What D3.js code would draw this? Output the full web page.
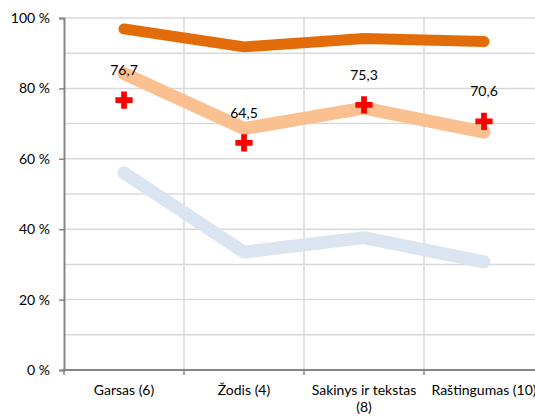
<!DOCTYPE html>
<html><head><meta charset="utf-8">
<script src="https://cdn.jsdelivr.net/npm/d3@7"></script>
<style>body{margin:0;background:#fff;overflow:hidden}svg{display:block}text{font-family:Lato,"Liberation Sans",sans-serif;fill:#000}</style>
</head><body><svg width="535" height="418"></svg>
<script>
const categories = ["Garsas (6)", "Žodis (4)", "Sakinys ir tekstas (8)", "Raštingumas (10)"];
const seriesDark = [96.9, 91.8, 94.2, 93.3];
const seriesLightOrange = [84.2, 68.6, 74.4, 67.6];
const seriesBlue = [56.0, 33.5, 37.6, 30.7];
const markerValues = [76.7, 64.5, 75.3, 70.6];
const yTicks = [0, 20, 40, 60, 80, 100];
const yGrid = [10, 20, 30, 40, 50, 60, 70, 80, 90, 100];

const svg = d3.select("svg");
const x = d3.scaleBand().domain(categories).range([64, 544]);
const y = d3.scaleLinear().domain([0, 100]).range([370, 18]);
const cx = d => x(d) + x.bandwidth() / 2;

// horizontal grid
svg.append("g").selectAll("line").data(yGrid).join("line")
  .attr("x1", 64).attr("x2", 535).attr("y1", d => y(d)).attr("y2", d => y(d))
  .attr("stroke", "#d9d9d9").attr("stroke-width", 1.5);
// vertical grid
svg.append("g").selectAll("line").data(categories.slice(1).concat(["_end"])).join("line")
  .attr("x1", (d, i) => 64 + (i + 1) * x.bandwidth()).attr("x2", (d, i) => 64 + (i + 1) * x.bandwidth())
  .attr("y1", 18).attr("y2", 370).attr("stroke", "#d9d9d9").attr("stroke-width", 1.5);

// y axis
const yAxis = d3.axisLeft(y).tickValues(yTicks).tickFormat(d => d + " %").tickSize(5).tickPadding(9);
const gy = svg.append("g").attr("transform", "translate(64,0)").call(yAxis);
gy.select(".domain").attr("stroke", "#868686").attr("stroke-width", 2);
gy.selectAll(".tick line").attr("stroke", "#868686").attr("stroke-width", 1.5);
gy.selectAll("text").attr("font-size", 14).style("font-family", "Lato,'Liberation Sans',sans-serif");

// x axis
svg.append("line").attr("x1", 63).attr("x2", 535).attr("y1", 370).attr("y2", 370)
  .attr("stroke", "#868686").attr("stroke-width", 2);
svg.append("g").selectAll("line").data(d3.range(categories.length + 1)).join("line")
  .attr("x1", i => 64 + i * x.bandwidth()).attr("x2", i => 64 + i * x.bandwidth())
  .attr("y1", 370).attr("y2", 375).attr("stroke", "#868686").attr("stroke-width", 1.5);

// x labels with wrapping
const xl = svg.append("g");
categories.forEach(c => {
  const t = xl.append("text").attr("x", cx(c)).attr("y", 395).attr("text-anchor", "middle").attr("font-size", 14);
  const words = c.split(" ");
  let line = [], lines = [];
  const tmp = svg.append("text").attr("font-size", 14);
  words.forEach(w => {
    const test = line.concat([w]).join(" ");
    tmp.text(test);
    if (tmp.node().getComputedTextLength() > 122 && line.length) { lines.push(line.join(" ")); line = [w]; }
    else line.push(w);
  });
  lines.push(line.join(" "));
  tmp.remove();
  lines.forEach((l, i) => t.append("tspan").attr("x", cx(c)).attr("dy", i ? 17 : 0).text(l));
});

// lines
const lineGen = d3.line().x((d, i) => cx(categories[i])).y(d => y(d));
[[seriesBlue, "#dbe5f1", 13], [seriesLightOrange, "#fac090", 13], [seriesDark, "#e36c0a", 11]].forEach(([s, col, w]) => {
  svg.append("path").datum(s).attr("d", lineGen).attr("fill", "none").attr("stroke", col)
    .attr("stroke-width", w).attr("stroke-linecap", "round").attr("stroke-linejoin", "round");
});

// markers
svg.append("g").selectAll("path").data(markerValues).join("path")
  .attr("transform", (d, i) => `translate(${cx(categories[i])},${y(d)})`)
  .attr("d", d3.symbol(d3.symbolCross, 165)).attr("fill", "#ff0000");
svg.append("g").selectAll("text").data(markerValues).join("text")
  .attr("x", (d, i) => cx(categories[i])).attr("y", d => y(d) - 25)
  .attr("text-anchor", "middle").attr("font-size", 14)
  .text(d => d.toFixed(1).replace(".", ","));
</script></body></html>
